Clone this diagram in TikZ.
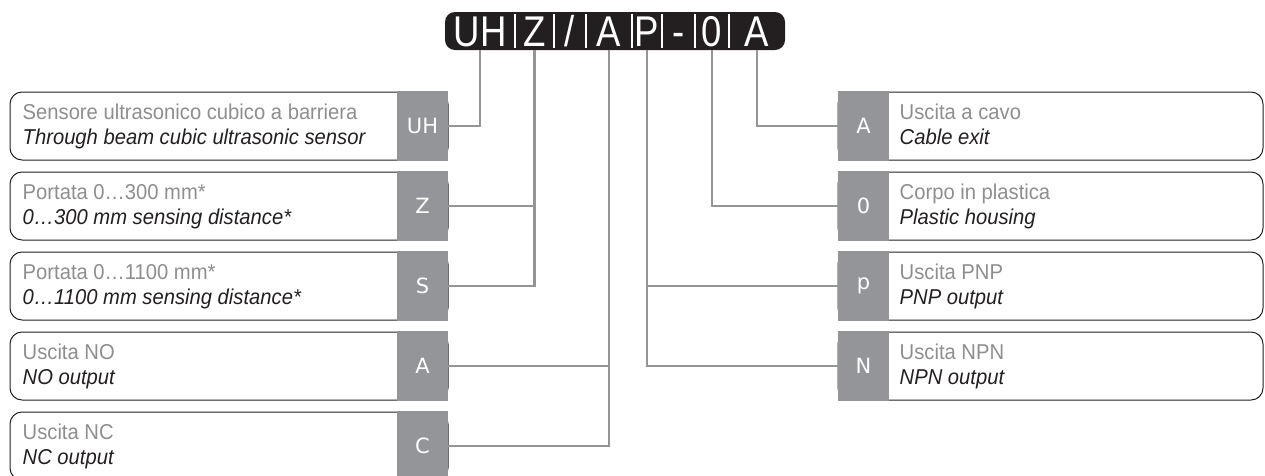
\documentclass[tikz,border=0pt]{standalone}
\usepackage{fontspec}
\setmainfont[FakeStretch=0.94]{Liberation Sans}
\newfontfamily\tabfont{DejaVu Sans}
\newfontfamily\codefont[FakeStretch=0.85]{Liberation Sans}
\usetikzlibrary{positioning}
\definecolor{tabgray}{HTML}{939598}
\definecolor{txtgray}{HTML}{8D8E90}
\definecolor{ink}{HTML}{231F20}

\tikzset{
  lbox/.style={draw=ink, line width=1pt, rounded corners=12pt, minimum width=438pt, minimum height=68pt, inner sep=0pt},
  rbox/.style={draw=ink, line width=1pt, rounded corners=12pt, minimum width=425pt, minimum height=68pt, inner sep=0pt},
  tab/.style={fill=tabgray, text=white, minimum width=51pt, minimum height=70pt, inner sep=0pt, font=\tabfont\fontsize{21}{21}\selectfont},
  itline/.style={anchor=base west, inner sep=0pt, text=txtgray, font=\fontsize{21.5}{24}\selectfont},
  enline/.style={anchor=base west, inner sep=0pt, text=ink, font=\fontsize{21.5}{24}\selectfont\itshape},
  link/.style={draw=tabgray, line width=2.4pt}
}

\begin{document}
\begin{tikzpicture}[x=1pt, y=-1pt]
	\useasboundingbox (0,0) rectangle (1265,475);

	% code header
	\fill[ink, rounded corners=10pt] (445,12) rectangle (785,50);
	\begin{scope}[every node/.style={text=white, minimum height=38pt, inner sep=0pt, text height=31pt, text depth=0pt, font=\codefont\fontsize{43}{43}\selectfont}]
		\node[minimum width=70pt] (hUH) at (480,31) {UH};
		\node[minimum width=39pt] (hZ) at (534.5,31) {Z};
		\node[minimum width=32pt] (hSl) at (570,31) {/};
		\node[minimum width=46pt] (hA) at (609,31) {A};
		\node[minimum width=30pt] (hP) at (647,31) {P};
		\node[minimum width=33pt] (hDash) at (678.5,31) {-};
		\node[minimum width=34pt] (hZero) at (712,31) {0};
		\node[minimum width=56pt] (hEnd) at (757,31) {A};
	\end{scope}
	\foreach \c in {hUH,hZ,hSl,hA,hP,hDash,hZero}
		\draw[white, line width=1.8pt] ([yshift=-2pt]\c.north east) -- ([yshift=2pt]\c.south east);

	% left column
	\node[lbox] (bUH) at (229,126) {};
	\node[lbox] (bZ) at (229,206) {};
	\node[lbox] (bS) at (229,286) {};
	\node[lbox] (bA) at (229,366) {};
	\node[lbox] (bC) at (229,446) {};
	\node[tab] (tUH) at (422.5,126) {UH};
	\node[tab] (tZ) at (422.5,206) {Z};
	\node[tab] (tS) at (422.5,286) {S};
	\node[tab] (tA) at (422.5,366) {A};
	\node[tab] (tC) at (422.5,446) {C};

	\node[itline] at ([xshift=13pt, yshift=-28pt]bUH.north west) {Sensore ultrasonico cubico a barriera};
	\node[enline] at ([xshift=13pt, yshift=-53pt]bUH.north west) {Through beam cubic ultrasonic sensor};
	\node[itline] at ([xshift=13pt, yshift=-28pt]bZ.north west) {Portata 0\dots300 mm*};
	\node[enline] at ([xshift=13pt, yshift=-53pt]bZ.north west) {0\dots300 mm sensing distance*};
	\node[itline] at ([xshift=13pt, yshift=-28pt]bS.north west) {Portata 0\dots1100 mm*};
	\node[enline] at ([xshift=13pt, yshift=-53pt]bS.north west) {0\dots1100 mm sensing distance*};
	\node[itline] at ([xshift=13pt, yshift=-28pt]bA.north west) {Uscita NO};
	\node[enline] at ([xshift=13pt, yshift=-53pt]bA.north west) {NO output};
	\node[itline] at ([xshift=13pt, yshift=-28pt]bC.north west) {Uscita NC};
	\node[enline] at ([xshift=13pt, yshift=-53pt]bC.north west) {NC output};

	% right column
	\node[rbox] (bCab) at (1050.5,126) {};
	\node[rbox] (bZero) at (1050.5,206) {};
	\node[rbox] (bP) at (1050.5,286) {};
	\node[rbox] (bN) at (1050.5,366) {};
	\node[tab] (tCab) at (863.5,126) {A};
	\node[tab] (tZero) at (863.5,206) {0};
	\node[tab] (tP) at (863.5,286) {p};
	\node[tab] (tN) at (863.5,366) {N};

	\node[itline] at ([xshift=62pt, yshift=-28pt]bCab.north west) {Uscita a cavo};
	\node[enline] at ([xshift=62pt, yshift=-53pt]bCab.north west) {Cable exit};
	\node[itline] at ([xshift=62pt, yshift=-28pt]bZero.north west) {Corpo in plastica};
	\node[enline] at ([xshift=62pt, yshift=-53pt]bZero.north west) {Plastic housing};
	\node[itline] at ([xshift=62pt, yshift=-28pt]bP.north west) {Uscita PNP};
	\node[enline] at ([xshift=62pt, yshift=-53pt]bP.north west) {PNP output};
	\node[itline] at ([xshift=62pt, yshift=-28pt]bN.north west) {Uscita NPN};
	\node[enline] at ([xshift=62pt, yshift=-53pt]bN.north west) {NPN output};

	% connectors
	\draw[link] (hUH.south) |- (tUH.east);
	\draw[link] (hZ.south) |- (tS.east);
	\draw[link] (hZ.south |- tZ.east) -- (tZ.east);
	\draw[link] (hA.south) |- (tC.east);
	\draw[link] (hA.south |- tA.east) -- (tA.east);
	\draw[link] (hP.south) |- (tN.west);
	\draw[link] (hP.south |- tP.west) -- (tP.west);
	\draw[link] (hZero.south) |- (tZero.west);
	\draw[link] (hEnd.south) |- (tCab.west);
\end{tikzpicture}
\end{document}
